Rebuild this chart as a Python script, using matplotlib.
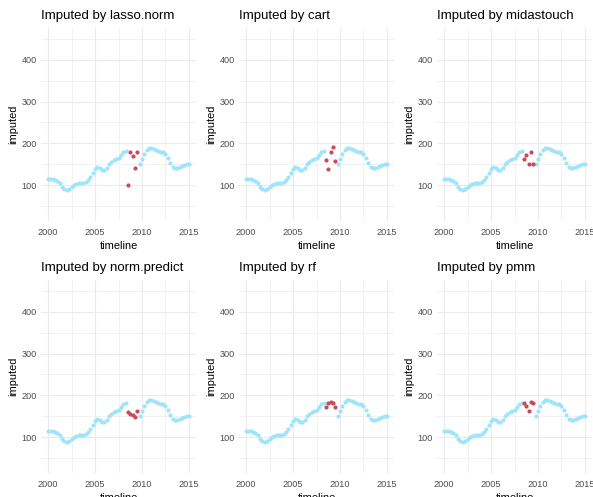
import numpy as np
import matplotlib
matplotlib.use("Agg")
import matplotlib.pyplot as plt
from matplotlib.ticker import FixedLocator

plt.rcParams['font.family'] = ['Liberation Sans', 'DejaVu Sans']

# Quarterly series 2000.00 .. 2015.00; NaN marks the missing quarters
timeline = np.arange(61) * 0.25 + 2000.0
observed = np.array([
    114, 114, 114, 112, 110, 104, 95, 90, 89, 91,
    95, 99, 103, 105, 106, 106, 107, 112, 120, 130,
    139, 143, 142, 137, 137, 142, 150, 155, 159, 162,
    166, 172, 178, 181, np.nan, np.nan, np.nan, np.nan, np.nan, 150,
    162, 175, 184, 188, 189, 187, 184, 182, 180, 178,
    175, 165, 152, 143, 140, 141, 143, 146, 148, 150,
    151,
], dtype=float)

# Values filled in by each imputation method, one per missing quarter
methods = ["lasso.norm", "cart", "midastouch", "norm.predict", "rf", "pmm"]
imp_lasso_norm = [100, 180, 170, 141, 178]
imp_cart = [161, 139, 180, 190, 157]
imp_midastouch = [162, 172, 150, 180, 150]
imp_norm_predict = [161, 156, 152, 148, 163]
imp_rf = [173, 182, 183, 181, 172]
imp_pmm = [182, 175, 163, 183, 181]
imputations = [imp_lasso_norm, imp_cart, imp_midastouch,
               imp_norm_predict, imp_rf, imp_pmm]

x_ticks = [2000, 2005, 2010, 2015]
y_ticks = [100, 200, 300, 400]

W, H = 593, 497
fig = plt.figure(figsize=(W / 100, H / 100), dpi=100)
fig.patch.set_facecolor("white")

BLUE = "#A0E4FC"
RED = "#C94A59"
GRID = "#EBEBEB"

lefts = [41, 239, 437]
tops = [28, 280]
pw, ph = 155, 193

missing = np.isnan(observed)

for i, (name, imp) in enumerate(zip(methods, imputations)):
    r, c = divmod(i, 3)
    left, top = lefts[c], tops[r]
    ax = fig.add_axes([left / W, 1 - (top + ph) / H, pw / W, ph / H])
    ax.set_facecolor("white")

    ax.scatter(timeline[~missing], observed[~missing], s=9, color=BLUE,
               linewidths=0, zorder=3)
    ax.scatter(timeline[missing], imp, s=9, color=RED, linewidths=0, zorder=4)

    ax.set_xlim(1999.25, 2015.75)
    ax.set_ylim(14, 476)
    ax.xaxis.set_major_locator(FixedLocator(x_ticks))
    ax.yaxis.set_major_locator(FixedLocator(y_ticks))
    ax.xaxis.set_minor_locator(FixedLocator([2002.5, 2007.5, 2012.5]))
    ax.yaxis.set_minor_locator(FixedLocator([50, 150, 250, 350, 450]))
    ax.grid(True, which="major", color=GRID, linewidth=0.8, zorder=0)
    ax.grid(True, which="minor", color=GRID, linewidth=0.45, zorder=0)
    ax.set_axisbelow(True)
    for s in ax.spines.values():
        s.set_visible(False)
    ax.tick_params(which="both", length=0, labelsize=6.6, labelcolor="#4D4D4D")
    ax.tick_params(axis="x", pad=5)
    ax.tick_params(axis="y", pad=3)
    ax.set_xticklabels([str(v) for v in x_ticks])
    ax.set_yticklabels([str(v) for v in y_ticks])

    ax.set_xlabel("timeline", fontsize=7.9, labelpad=3)
    ax.set_ylabel("imputed", fontsize=7.9, labelpad=2)
    ax.set_title(f"Imputed by {name}", fontsize=9.5, loc="left", pad=6.5)

fig.savefig("out.png", dpi=100, facecolor="white")
